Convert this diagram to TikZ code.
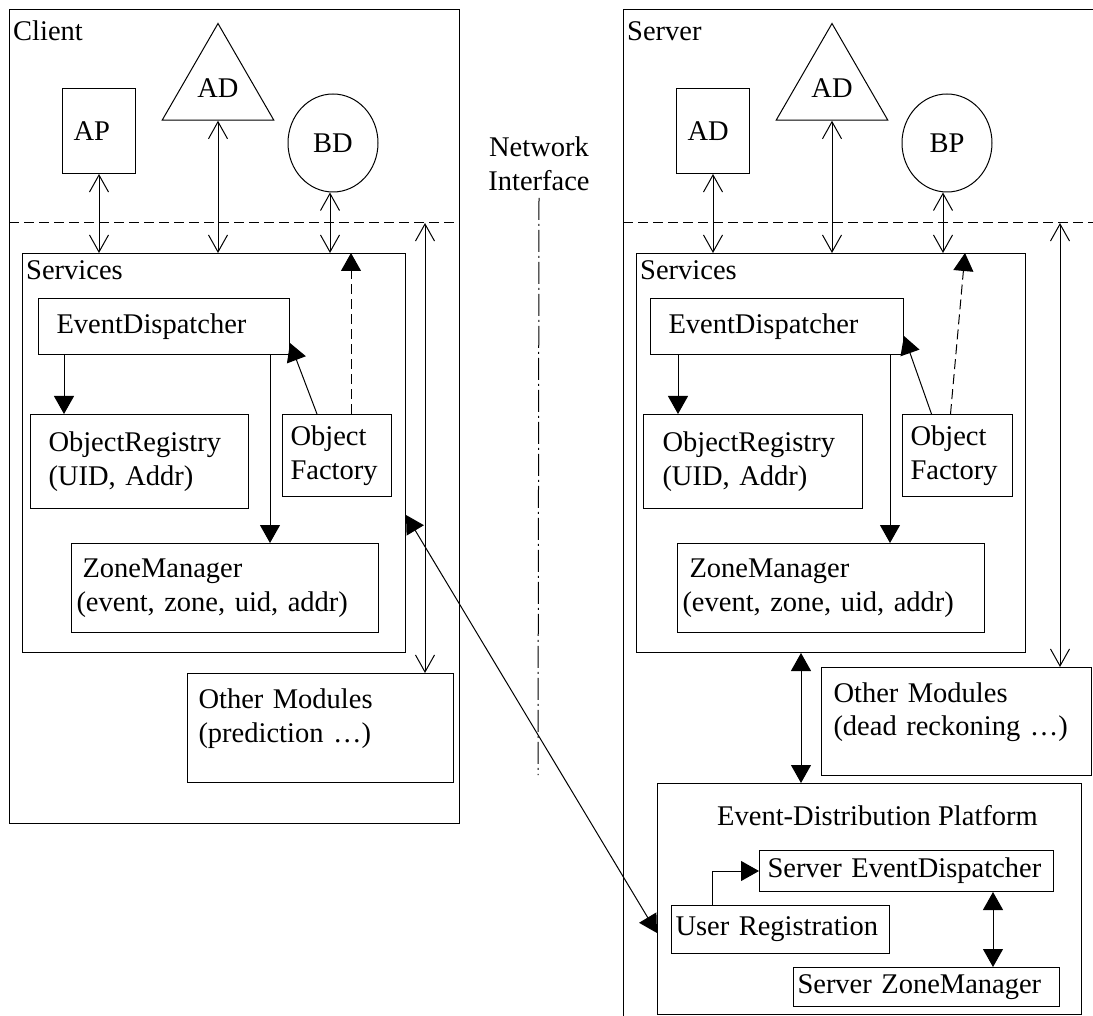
\documentclass[tikz,border=0pt]{standalone}
\usepackage{fontspec}
\setmainfont{Liberation Serif}
\usepackage{tikz}
\usetikzlibrary{arrows.meta,shapes.geometric}

\begin{document}
\begin{tikzpicture}[
  x=1pt, y=-1pt,
  font=\fontsize{28.5}{33.5}\selectfont,
  frame/.style={draw, line width=1pt, anchor=north west, inner sep=0pt},
  box/.style={draw, line width=1pt, anchor=north west, inner ysep=0pt, align=left},
  txt/.style={inner sep=0pt, anchor=base west},
  tri/.style={draw, line width=1pt, regular polygon, regular polygon sides=3, minimum size=129pt, inner sep=0pt},
  oval/.style={draw, line width=1pt, ellipse, minimum width=90pt, minimum height=98pt, inner sep=0pt},
  dbl/.style={{Straight Barb[length=17pt,width=19pt]}-{Straight Barb[length=17pt,width=19pt]}, line width=1pt},
  arr/.style={-{Triangle[length=18pt,width=20pt]}, line width=1pt},
  fdbl/.style={{Triangle[length=18pt,width=20pt]}-{Triangle[length=18pt,width=20pt]}, line width=1pt},
  dasharr/.style={-{Triangle[length=18pt,width=20pt]}, line width=1pt, dash pattern=on 10pt off 5pt},
  dashline/.style={line width=1pt, dash pattern=on 10pt off 5pt},
  dashdot/.style={line width=1pt, dash pattern=on 22pt off 4pt on 2pt off 4pt}
]
\useasboundingbox (0,0) rectangle (1093,1016);

% client side
\node[frame, minimum width=450pt, minimum height=814pt] (client) at (9,9) {};
\node[txt] (clientlbl) at (13,41) {Client};
\node[box, minimum height=85pt, text width=51pt, inner xsep=11pt] (cap) at (62,88) {AP};
\node[tri] (cad) at (218,88) {AD};
\node[oval] (cbd) at (333,143) {BD};
\draw[dashline] (client.west |- 0,223) -- (client.east |- 0,223);

\node[frame, minimum width=383pt, minimum height=399pt] (csvc) at (22,253) {};
\node[txt] (csvclbl) at (26,280) {Services};
\node[box, minimum height=56pt, text width=215pt, inner xsep=18pt] (ced) at (38,298) {EventDispatcher};
\node[box, minimum height=94pt, text width=182pt, inner xsep=18pt] (cor) at (30,414) {ObjectRegistry\\(UID, Addr)};
\node[box, minimum height=82pt, text width=93pt, inner xsep=8pt] (cof) at (282,414) {Object\\Factory};
\node[box, minimum height=89pt, text width=297pt, inner xsep=5pt] (czm) at (71,543) {\hspace*{6pt}ZoneManager\\(event, zone, uid, addr)};
\node[box, minimum height=109pt, text width=244pt, inner xsep=11pt, text depth=58pt] (com) at (187,673) {Other Modules\\(prediction …)};
\coordinate (clong) at (425,223);

\draw[dbl] (cap.south) -- (cap.south |- csvc.north);
\draw[dbl] (cad.side 2) -- (cad.side 2 |- csvc.north);
\draw[dbl] ([xshift=-3pt]cbd.south) -- ([xshift=-3pt]cbd.south |- csvc.north);
\draw[dbl] (clong) -- (clong |- com.north);
\draw[arr] ([xshift=26pt]ced.south west) -- ([xshift=26pt]ced.south west |- cor.north);
\draw[arr] ([xshift=-20pt]ced.south east) -- ([xshift=-20pt]ced.south east |- czm.north);
\draw[arr] ([xshift=-20pt]cof.north) -- ([yshift=12pt]ced.south east);
\draw[dasharr] ([xshift=14pt]cof.north) -- ([xshift=14pt]cof.north |- csvc.north);

% network interface
\node[inner sep=0pt, align=center] (net) at (539,164) {Network\\Interface};
\coordinate (netend) at (538,775);
\draw[dashdot] ([yshift=-7pt]net.south) -- (netend);

% server side
\coordinate (srvtr) at (1100,10);
\coordinate (srvtl) at (623,10);
\coordinate (srvbl) at (623,1020);
\draw[line width=1pt] (srvtr) -- (srvtl) -- (srvbl);
\node[txt] (srvlbl) at (627,41) {Server};
\node[box, minimum height=85pt, text width=51pt, inner xsep=11pt] (sap) at (676,88) {AD};
\node[tri] (sad) at (832,88) {AD};
\node[oval] (sbp) at (947,143) {BP};
\draw[dashline] (srvtl |- 0,223) -- (srvtr |- 0,223);

\node[frame, minimum width=389pt, minimum height=399pt] (ssvc) at (636,253) {};
\node[txt] (ssvclbl) at (640,280) {Services};
\node[box, minimum height=56pt, text width=217pt, inner xsep=18pt] (sed) at (650,298) {EventDispatcher};
\node[box, minimum height=94pt, text width=181pt, inner xsep=19pt] (sor) at (643,414) {ObjectRegistry\\(UID, Addr)};
\node[box, minimum height=82pt, text width=94pt, inner xsep=8pt] (sof) at (902,414) {Object\\Factory};
\node[box, minimum height=89pt, text width=297pt, inner xsep=5pt] (szm) at (677,543) {\hspace*{7pt}ZoneManager\\(event, zone, uid, addr)};
\node[box, minimum height=108pt, text width=246pt, inner xsep=12pt, text depth=58pt] (som) at (821,667) {Other Modules\\(dead reckoning …)};
\coordinate (slong) at (1060,223);

\node[frame, minimum width=424pt, minimum height=231pt] (edp) at (657,783) {};
\node[txt] (edplbl) at (717,825) {Event-Distribution Platform};
\node[box, minimum height=41pt, text width=278pt, inner xsep=8pt] (ssed) at (759,850) {Server EventDispatcher};
\node[box, minimum height=48pt, text width=210pt, inner xsep=4pt] (sur) at (671,905) {User Registration};
\node[box, minimum height=39pt, text width=258pt, inner xsep=4pt] (sszm) at (793,967) {Server ZoneManager};

\draw[dbl] (sap.south) -- (sap.south |- ssvc.north);
\draw[dbl] (sad.side 2) -- (sad.side 2 |- ssvc.north);
\draw[dbl] ([xshift=-4pt]sbp.south) -- ([xshift=-4pt]sbp.south |- ssvc.north);
\draw[dbl] (slong) -- (slong |- som.north);
\draw[arr] ([xshift=28pt]sed.south west) -- ([xshift=28pt]sed.south west |- sor.north);
\draw[arr] ([xshift=-14pt]sed.south east) -- ([xshift=-14pt]sed.south east |- szm.north);
\draw[arr] ([xshift=-26pt]sof.north) -- ([yshift=19pt]sed.south east);
\draw[dasharr] ([xshift=-7pt]sof.north) -- ([xshift=-61pt]ssvc.north east);
\draw[fdbl] ([xshift=165pt]ssvc.south west) -- ([xshift=165pt]ssvc.south west |- edp.north);
\draw[arr] ([xshift=41pt]sur.north west) |- (ssed.west);
\draw[fdbl] ([xshift=-61pt]ssed.south east) -- ([xshift=-61pt]ssed.south east |- sszm.north);

% client services <-> platform
\draw[fdbl] ([yshift=-62pt]csvc.east) -- ([yshift=-34pt]edp.west);
\end{tikzpicture}
\end{document}
